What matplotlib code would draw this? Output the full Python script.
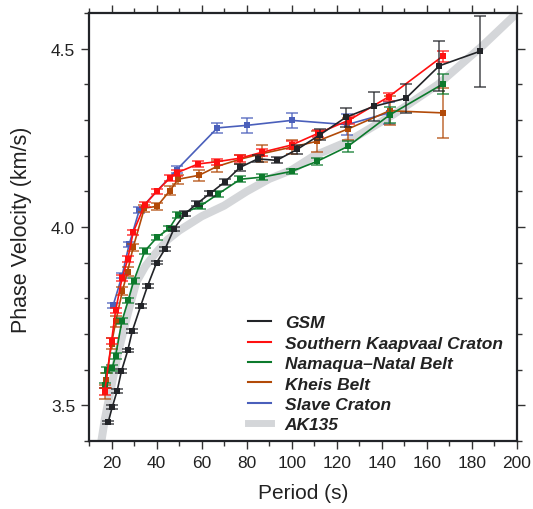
import matplotlib
matplotlib.use("Agg")
import matplotlib.pyplot as plt
from matplotlib.lines import Line2D
from matplotlib.ticker import MultipleLocator

plt.rcParams['font.family'] = ['Liberation Sans', 'DejaVu Sans']

# GSM
gsm_x = [18.5, 20.3, 22.5, 24.4, 27.2, 29.2, 32.9, 36, 40, 43.8, 47.7, 52.6, 57.8, 63.7,
         70.2, 77, 84.9, 93.3, 102.5, 112.6, 124.1, 136.3, 150.7, 165.5, 183.7]
gsm_y = [3.452, 3.495, 3.541, 3.596, 3.654, 3.708, 3.778, 3.835, 3.90, 3.939, 3.995, 4.037,
         4.065, 4.094, 4.126, 4.167, 4.191, 4.187, 4.218, 4.259, 4.308, 4.338, 4.361, 4.452, 4.493]
gsm_e = [0.005, 0.005, 0.005, 0.005, 0.005, 0.005, 0.005, 0.005, 0.005, 0.006, 0.006, 0.007,
         0.007, 0.008, 0.008, 0.01, 0.01, 0.008, 0.013, 0.015, 0.027, 0.04, 0.04, 0.07, 0.1]

# Southern Kaapvaal Craton
skc_x = [17, 20, 21.8, 24.7, 27.2, 29.6, 34.8, 40, 45.9, 49, 58.5, 66.7, 77, 87, 100,
         111.8, 125.5, 143, 167]
skc_y = [3.54, 3.68, 3.766, 3.857, 3.91, 3.985, 4.063, 4.10, 4.137, 4.152, 4.177, 4.183,
         4.193, 4.21, 4.23, 4.263, 4.30, 4.365, 4.479]
skc_e = [0.01, 0.008, 0.008, 0.008, 0.008, 0.008, 0.008, 0.008, 0.008, 0.008, 0.008, 0.008,
         0.01, 0.01, 0.01, 0.01, 0.012, 0.012, 0.015]

# Namaqua-Natal Belt
nnb_x = [17, 17.8, 20.3, 21.8, 24.6, 27.4, 29.8, 34.8, 40.2, 45.6, 49.4, 59.2, 67.4, 77.2,
         87, 100, 111.2, 124.9, 143.4, 167.1]
nnb_y = [3.556, 3.60, 3.605, 3.639, 3.736, 3.794, 3.848, 3.933, 3.971, 3.996, 4.033, 4.058,
         4.093, 4.134, 4.14, 4.156, 4.184, 4.226, 4.314, 4.401]
nnb_e = [0.008, 0.008, 0.008, 0.008, 0.008, 0.008, 0.008, 0.008, 0.008, 0.008, 0.008, 0.008,
         0.008, 0.008, 0.008, 0.008, 0.01, 0.015, 0.022, 0.028]

# Kheis Belt
kb_x = [17, 17.6, 20, 21.9, 24.8, 27.1, 29.6, 34.6, 40.2, 45.9, 49.6, 58.8, 66.9, 77, 87,
        100, 111, 125, 143.4, 167.1]
kb_y = [3.537, 3.570, 3.673, 3.736, 3.82, 3.875, 3.943, 4.053, 4.058, 4.102, 4.134, 4.145,
        4.17, 4.19, 4.206, 4.224, 4.24, 4.275, 4.326, 4.32]
kb_e = [0.02, 0.02, 0.015, 0.015, 0.012, 0.012, 0.01, 0.01, 0.01, 0.012, 0.012, 0.015,
        0.015, 0.012, 0.025, 0.02, 0.03, 0.03, 0.04, 0.07]

# Slave Craton
sc_x = [20.7, 24.7, 27.8, 32.3, 49, 67, 80, 100, 124.5, 143]
sc_y = [3.78, 3.864, 3.951, 4.047, 4.161, 4.278, 4.285, 4.299, 4.287, 4.32]
sc_e = [0.008, 0.008, 0.008, 0.008, 0.01, 0.013, 0.02, 0.02, 0.03, 0.03]

# AK135
ak_x = [15.5, 17, 19.2, 23, 27.4, 31, 35, 40, 45, 50, 60, 70, 80, 90, 100, 110, 125,
        145, 165, 185, 200]
ak_y = [3.40, 3.46, 3.53, 3.65, 3.762, 3.846, 3.89, 3.93, 3.965, 3.99, 4.03, 4.06, 4.10,
        4.135, 4.16, 4.20, 4.24, 4.315, 4.40, 4.51, 4.60]

labels = ['GSM', 'Southern Kaapvaal Craton', 'Namaqua\u2013Natal Belt', 'Kheis Belt',
          'Slave Craton', 'AK135']
colors = ['#222428', '#ff1010', '#0c7a2c', '#b24a08', '#4a5fbb', '#d4d6d9']

fig = plt.figure(figsize=(5.33, 5.10), dpi=100)
ax = fig.add_axes([0.167, 0.1333, 0.803, 0.8392])

ax.plot(ak_x, ak_y, color=colors[5], lw=5.8, solid_capstyle='butt', zorder=1)

series = [(sc_x, sc_y, sc_e, colors[4]),
          (kb_x, kb_y, kb_e, colors[3]),
          (nnb_x, nnb_y, nnb_e, colors[2]),
          (skc_x, skc_y, skc_e, colors[1]),
          (gsm_x, gsm_y, gsm_e, colors[0])]
for i, (x, y, e, c) in enumerate(series):
    ax.errorbar(x, y, yerr=e, fmt='none', ecolor=c, elinewidth=1.2, capsize=4,
                capthick=1.2, alpha=0.75, zorder=2 + i)
    ax.plot(x, y, color=c, lw=1.2, marker='s', markersize=4.5, markeredgewidth=0,
            zorder=2.5 + i)

ax.set_xlim(10, 200)
ax.set_ylim(3.4, 4.6)
ax.xaxis.set_minor_locator(MultipleLocator(10))
ax.yaxis.set_minor_locator(MultipleLocator(0.1))
ax.set_xticks([20, 40, 60, 80, 100, 120, 140, 160, 180, 200])
ax.set_yticks([3.5, 4.0, 4.5])
ax.set_yticklabels(['3.5', '4.0', '4.5'])

for s in ax.spines.values():
    s.set_linewidth(1.6)
    s.set_color('#222428')
ax.tick_params(which='both', direction='out', top=True, right=True, color='#333333',
               width=1.0, labelsize=12.5, labelcolor='#222222')
ax.tick_params(which='major', length=6)
ax.tick_params(which='minor', length=3.5)
ax.tick_params(axis='x', labeltop=False, pad=4)
ax.tick_params(axis='y', labelright=False, pad=4)

ax.set_xlabel('Period (s)', fontsize=15, color='#222222')
ax.set_ylabel('Phase Velocity (km/s)', fontsize=15.5, color='#222222')
ax.xaxis.set_label_coords(0.5, -0.098)
ax.yaxis.set_label_coords(-0.133, 0.495)

handles = [Line2D([0], [0], color=colors[0], lw=1.5),
           Line2D([0], [0], color=colors[1], lw=1.5),
           Line2D([0], [0], color=colors[2], lw=1.5),
           Line2D([0], [0], color=colors[3], lw=1.5),
           Line2D([0], [0], color=colors[4], lw=1.5),
           Line2D([0], [0], color=colors[5], lw=5)]
leg = ax.legend(handles, labels, loc='lower right', bbox_to_anchor=(0.995, -0.008),
                frameon=False, handlelength=1.3, handletextpad=0.8, labelspacing=0.3,
                borderpad=0.2,
                prop={'weight': 'bold', 'style': 'italic', 'size': 12.5})
for t in leg.get_texts():
    t.set_color('#222222')

fig.savefig('out.png', dpi=100)
